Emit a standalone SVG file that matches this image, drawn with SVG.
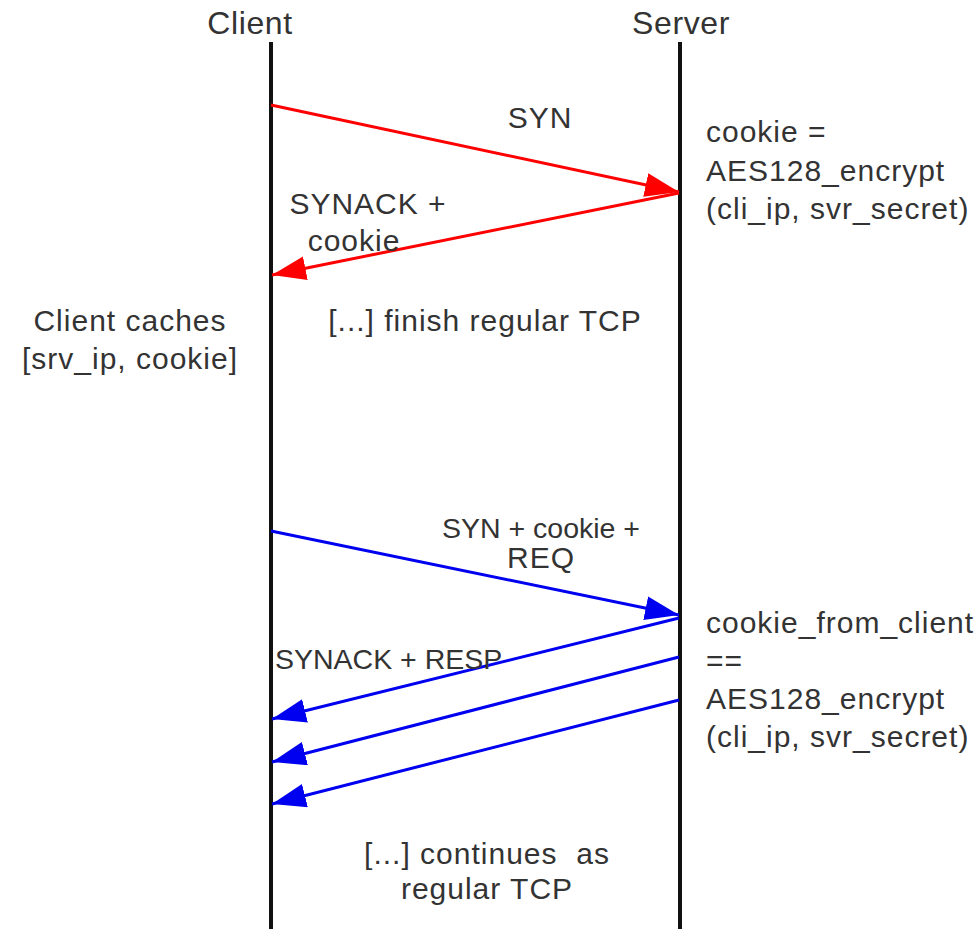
<svg xmlns="http://www.w3.org/2000/svg" width="980" height="929" viewBox="0 0 980 929">
<style>
text{font-family:"Liberation Sans",Arial,sans-serif;font-size:30px;fill:#333;letter-spacing:1px}
.title{font-size:32px;letter-spacing:0.6px}
.mid{text-anchor:middle}
.small{font-size:28.5px;letter-spacing:0}
.life{stroke:#111;stroke-width:4;fill:none}
.red{stroke:#ff0000;stroke-width:3;fill:none}
.blue{stroke:#0000f0;stroke-width:3;fill:none}
</style>
<defs>
<marker id="ahRed" markerUnits="userSpaceOnUse" markerWidth="36" markerHeight="26" refX="34" refY="12" orient="auto">
<path d="M0,0 L34,12 L0,24 z" fill="#ff0000"/>
</marker>
<marker id="ahBlue" markerUnits="userSpaceOnUse" markerWidth="36" markerHeight="26" refX="34" refY="12" orient="auto">
<path d="M0,0 L34,12 L0,24 z" fill="#0000f0"/>
</marker>
</defs>
<rect width="980" height="929" fill="#fff"/>
<g id="client">
<text class="title mid" x="250" y="34">Client</text>
<line class="life" x1="271" y1="42" x2="271" y2="929"/>
</g>
<g id="server">
<text class="title mid" x="681" y="34">Server</text>
<line class="life" x1="680" y1="42" x2="680" y2="929"/>
</g>
<g id="connectors">
<line class="red" x1="271" y1="105" x2="679" y2="192" marker-end="url(#ahRed)"/>
<line class="red" x1="679" y1="193" x2="272" y2="275" marker-end="url(#ahRed)"/>
<line class="blue" x1="271" y1="531" x2="679" y2="615" marker-end="url(#ahBlue)"/>
<line class="blue" x1="679" y1="618" x2="272" y2="719" marker-end="url(#ahBlue)"/>
<line class="blue" x1="679" y1="657" x2="272" y2="762" marker-end="url(#ahBlue)"/>
<line class="blue" x1="679" y1="700" x2="272" y2="804" marker-end="url(#ahBlue)"/>
</g>
<g id="label-syn"><text class="mid" x="540" y="128">SYN</text></g>
<g id="label-synack"><text class="mid" x="368" y="214">SYNACK +</text><text class="mid" x="354" y="251">cookie</text></g>
<g id="note-cookie">
<text x="706" y="142">cookie =</text>
<text x="706" y="181">AES128_encrypt</text>
<text x="706" y="219">(cli_ip, svr_secret)</text>
</g>
<g id="note-client-caches">
<text class="mid" x="130" y="331">Client caches</text>
<text class="mid" x="130" y="369">[srv_ip, cookie]</text>
</g>
<g id="label-finish"><text class="mid" x="485" y="331">[...] finish regular TCP</text></g>
<g id="label-syn-cookie"><text class="mid small" x="541" y="538">SYN + cookie +</text><text class="mid" x="541" y="568">REQ</text></g>
<g id="label-synack-resp"><text class="small" x="275" y="669">SYNACK + RESP</text></g>
<g id="note-check">
<text x="706" y="633">cookie_from_client</text>
<text x="706" y="671">==</text>
<text x="706" y="709">AES128_encrypt</text>
<text x="706" y="747">(cli_ip, svr_secret)</text>
</g>
<g id="label-continues"><text class="mid" x="487" y="864" xml:space="preserve">[...] continues  as</text><text class="mid" x="487" y="899">regular TCP</text></g>
</svg>
